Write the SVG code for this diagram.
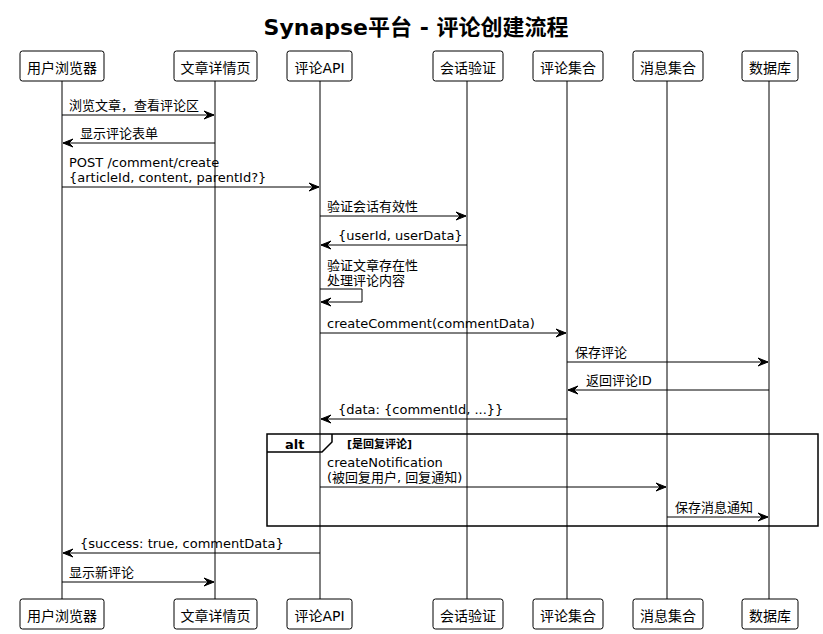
<svg xmlns="http://www.w3.org/2000/svg" width="823" height="634" viewBox="0 0 823 634">
<style>
text{font-family:"DejaVu Sans","Noto Sans CJK SC",sans-serif;fill:#000}
.title{font-size:22px;font-weight:bold}
.pt{font-size:14px}
.msg{font-size:13px}
.box{fill:#fff;stroke:#000;stroke-width:1}
.life{stroke:#000;stroke-width:1}
.line{stroke:#000;stroke-width:1;fill:none}
.frame{fill:none;stroke:#000;stroke-width:1.5}
.alt{font-size:13px;font-weight:bold}
.cond{font-size:11px;font-weight:bold}
</style>
<defs>
<marker id="ah" markerWidth="12" markerHeight="10" viewBox="0 0 12 10" refX="11" refY="5" orient="auto" markerUnits="userSpaceOnUse">
<polygon points="11,5 1,1 5,5 1,9" fill="#000" stroke="#000" stroke-width="1"/>
</marker>
</defs>
<rect width="823" height="634" fill="#fff"/>
<text class="title" x="416" y="35" text-anchor="middle">Synapse平台 - 评论创建流程</text>

<g id="lifelines">
<line class="life" x1="62" y1="81" x2="62" y2="599"/>
<line class="life" x1="215" y1="81" x2="215" y2="599"/>
<line class="life" x1="320" y1="81" x2="320" y2="599"/>
<line class="life" x1="467" y1="81" x2="467" y2="599"/>
<line class="life" x1="567" y1="81" x2="567" y2="599"/>
<line class="life" x1="667" y1="81" x2="667" y2="599"/>
<line class="life" x1="769" y1="81" x2="769" y2="599"/>
</g>

<g id="browser">
<rect class="box" x="20" y="51" width="84" height="30" rx="2.5"/>
<text class="pt" x="62" y="73" text-anchor="middle">用户浏览器</text>
<rect class="box" x="20" y="599" width="84" height="30" rx="2.5"/>
<text class="pt" x="62" y="621" text-anchor="middle">用户浏览器</text>
</g>
<g id="article">
<rect class="box" x="174" y="51" width="83" height="30" rx="2.5"/>
<text class="pt" x="215.5" y="73" text-anchor="middle">文章详情页</text>
<rect class="box" x="174" y="599" width="83" height="30" rx="2.5"/>
<text class="pt" x="215.5" y="621" text-anchor="middle">文章详情页</text>
</g>
<g id="api">
<rect class="box" x="287" y="51" width="65" height="30" rx="2.5"/>
<text class="pt" x="319.5" y="73" text-anchor="middle">评论API</text>
<rect class="box" x="287" y="599" width="65" height="30" rx="2.5"/>
<text class="pt" x="319.5" y="621" text-anchor="middle">评论API</text>
</g>
<g id="session">
<rect class="box" x="433" y="51" width="70" height="30" rx="2.5"/>
<text class="pt" x="468" y="73" text-anchor="middle">会话验证</text>
<rect class="box" x="433" y="599" width="70" height="30" rx="2.5"/>
<text class="pt" x="468" y="621" text-anchor="middle">会话验证</text>
</g>
<g id="comments">
<rect class="box" x="533" y="51" width="70" height="30" rx="2.5"/>
<text class="pt" x="568" y="73" text-anchor="middle">评论集合</text>
<rect class="box" x="533" y="599" width="70" height="30" rx="2.5"/>
<text class="pt" x="568" y="621" text-anchor="middle">评论集合</text>
</g>
<g id="messages">
<rect class="box" x="633" y="51" width="70" height="30" rx="2.5"/>
<text class="pt" x="668" y="73" text-anchor="middle">消息集合</text>
<rect class="box" x="633" y="599" width="70" height="30" rx="2.5"/>
<text class="pt" x="668" y="621" text-anchor="middle">消息集合</text>
</g>
<g id="database">
<rect class="box" x="742" y="51" width="56" height="30" rx="2.5"/>
<text class="pt" x="770" y="73" text-anchor="middle">数据库</text>
<rect class="box" x="742" y="599" width="56" height="30" rx="2.5"/>
<text class="pt" x="770" y="621" text-anchor="middle">数据库</text>
</g>

<g id="alt-frame">
<rect class="frame" x="267" y="434" width="551" height="92"/>
<path class="frame" d="M267,452 L322,452 L332,442 L332,434"/>
<text class="alt" x="285" y="448.5">alt</text>
<text class="cond" x="347" y="448">[是回复评论]</text>
</g>

<g id="connectors">
<line class="line" x1="62" y1="115" x2="214" y2="115" marker-end="url(#ah)"/>
<text class="msg" x="69" y="110">浏览文章，查看评论区</text>

<line class="line" x1="215" y1="143" x2="63" y2="143" marker-end="url(#ah)"/>
<text class="msg" x="80" y="138">显示评论表单</text>

<line class="line" x1="62" y1="187" x2="319" y2="187" marker-end="url(#ah)"/>
<text class="msg" x="69" y="167">POST /comment/create</text>
<text class="msg" x="69" y="182">{articleId, content, parentId?}</text>

<line class="line" x1="320" y1="216" x2="466" y2="216" marker-end="url(#ah)"/>
<text class="msg" x="327" y="211">验证会话有效性</text>

<line class="line" x1="467" y1="245" x2="321" y2="245" marker-end="url(#ah)"/>
<text class="msg" x="338" y="240">{userId, userData}</text>

<polyline class="line" points="320,289 362,289 362,302 321,302" marker-end="url(#ah)"/>
<text class="msg" x="327" y="270">验证文章存在性</text>
<text class="msg" x="327" y="285">处理评论内容</text>

<line class="line" x1="320" y1="333" x2="566" y2="333" marker-end="url(#ah)"/>
<text class="msg" x="327" y="328">createComment(commentData)</text>

<line class="line" x1="567" y1="362" x2="768" y2="362" marker-end="url(#ah)"/>
<text class="msg" x="575" y="357">保存评论</text>

<line class="line" x1="769" y1="390" x2="568" y2="390" marker-end="url(#ah)"/>
<text class="msg" x="586" y="385">返回评论ID</text>

<line class="line" x1="567" y1="419" x2="321" y2="419" marker-end="url(#ah)"/>
<text class="msg" x="338" y="414">{data: {commentId, ...}}</text>

<line class="line" x1="320" y1="487" x2="666" y2="487" marker-end="url(#ah)"/>
<text class="msg" x="327" y="467">createNotification</text>
<text class="msg" x="327" y="482">(被回复用户, 回复通知)</text>

<line class="line" x1="667" y1="517" x2="768" y2="517" marker-end="url(#ah)"/>
<text class="msg" x="675" y="512">保存消息通知</text>

<line class="line" x1="320" y1="553" x2="63" y2="553" marker-end="url(#ah)"/>
<text class="msg" x="80" y="548">{success: true, commentData}</text>

<line class="line" x1="62" y1="582" x2="214" y2="582" marker-end="url(#ah)"/>
<text class="msg" x="69" y="577">显示新评论</text>
</g>
</svg>
